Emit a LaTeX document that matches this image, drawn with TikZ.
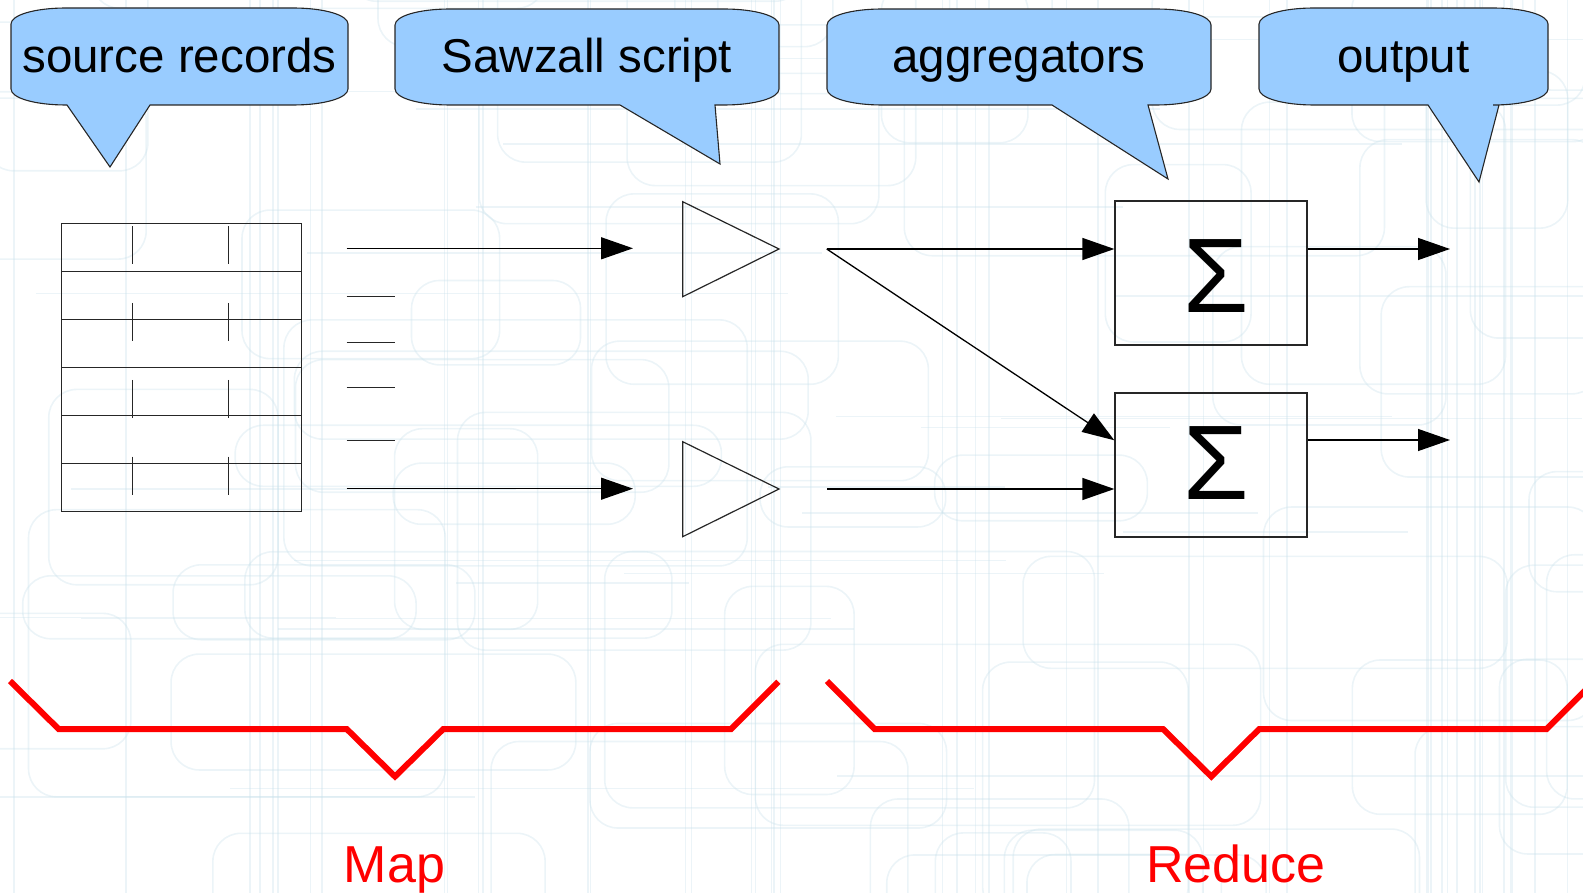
\documentclass[tikz,border=0pt]{standalone}
\usepackage{fontspec}
\setmainfont{Liberation Sans}
\usetikzlibrary{arrows.meta,calc}

\definecolor{bubblefill}{HTML}{99CCFF}
\definecolor{bggrid}{RGB}{200,224,234}

% speech bubble: left, top, right, bottom, tail start x, tail end x, tip x, tip y
\newcommand\speechbubble[8]{%
  \draw[bubble] (#1,#2+16) .. controls (#1,#2+7) and (#1+24,#2) .. (#1+55,#2)
    -- (#3-55,#2) .. controls (#3-24,#2) and (#3,#2+7) .. (#3,#2+16)
    -- (#3,#4-16) .. controls (#3,#4-7) and (#3-24,#4) .. (#3-55,#4)
    -- (#6,#4) -- (#7,#8) -- (#5,#4)
    -- (#1+55,#4) .. controls (#1+24,#4) and (#1,#4-7) .. (#1,#4-16) -- cycle;}

\begin{document}
\begin{tikzpicture}[x=1pt,y=-1pt,
  bubble/.style={fill=bubblefill, draw=black!85, line width=1.1pt},
  bubbletext/.style={anchor=base, inner sep=0pt, font=\fontsize{47.5}{57}\selectfont},
  thin/.style={draw=black!85, line width=1.3pt},
  flow/.style={draw=black, line width=1.3pt, -{Triangle[length=32pt,width=22pt]}},
  aggbox/.style={draw=black!85, line width=1.3pt, minimum width=192pt, minimum height=144pt, inner sep=0pt},
  sigmatext/.style={anchor=base, inner sep=0pt, font=\fontsize{106}{120}\selectfont},
  brace/.style={draw=red, line width=6pt, line join=miter},
  phasetext/.style={anchor=base, inner sep=0pt, text=red, font=\fontsize{52}{62}\selectfont},
  bgline/.style={draw=bggrid, line width=1.6pt, opacity=0.35}]

\useasboundingbox (0,0) rectangle (1583,893);

% faint circuit-like backdrop
\begin{scope}
  \clip (0,0) rectangle (1583,893);
  \pgfmathsetseed{4242}
  \foreach \i in {1,...,70}{
    \pgfmathsetmacro\bx{rnd*1750-120}
    \pgfmathsetmacro\by{rnd*1050-120}
    \pgfmathsetmacro\bw{120+rnd*400}
    \pgfmathsetmacro\bh{60+rnd*230}
    \draw[bgline, rounded corners=28pt] (\bx,\by) rectangle ++(\bw,\bh);
  }
  \foreach \i in {1,...,45}{
    \pgfmathsetmacro\bx{rnd*1583}
    \draw[bgline] (\bx,0) -- (\bx,893);
  }
  \foreach \i in {1,...,25}{
    \pgfmathsetmacro\by{rnd*893}
    \pgfmathsetmacro\bx{rnd*1300-100}
    \pgfmathsetmacro\bw{200+rnd*700}
    \draw[bgline] (\bx,\by) -- ++(\bw,0);
  }
\end{scope}

% callouts
\speechbubble{11}{8}{348}{105}{67}{150}{110}{167}
\node[bubbletext] (lbl-src) at (179.5,73) {source records};
\speechbubble{395}{9}{779}{105}{620}{715}{720}{164}
\node[bubbletext] (lbl-script) at (587,73) {Sawzall script};
\speechbubble{827}{9}{1211}{105}{1052}{1148}{1168}{179}
\node[bubbletext] (lbl-agg) at (1019,73) {aggregators};
\speechbubble{1259}{8}{1548}{105}{1428}{1499}{1479}{182}
\node[bubbletext] (lbl-out) at (1403.5,73) {output};

% record table
\node[thin, draw, minimum width=240pt, minimum height=288.4pt, inner sep=0pt] (records) at (181.7,367.5) {};
\foreach \ry in {271.7,319.3,367.7,415.7,463.7}
  \draw[thin] (records.west |- 0,\ry) -- (records.east |- 0,\ry);
\foreach \tx in {132.3,228.3}
  \foreach \ty in {245.5,322,399,475.5}
    \draw[thin] (\tx,\ty-19) -- (\tx,\ty+19);

% record stream
\coordinate (r1) at (346.7,248.3);
\coordinate (r1e) at (633,248.3);
\coordinate (r6) at (346.7,488.7);
\coordinate (r6e) at (633,488.7);
\foreach \ly in {296.7,342.3,387.7,440.7}
  \draw[thin] (346.7,\ly) -- (395,\ly);
\draw[flow] (r1) -- (r1e);
\draw[flow] (r6) -- (r6e);

% Sawzall script instances
\draw[thin, line width=1.2pt, line join=miter] (682.7,201.7) -- (682.7,296.7) -- (779,249) -- cycle;
\draw[thin, line width=1.2pt, line join=miter] (682.7,441.7) -- (682.7,536.7) -- (779,489) -- cycle;

% aggregators
\node[aggbox] (agg1) at (1211,273) {};
\node[aggbox] (agg2) at (1211,465) {};
\node[sigmatext] (sum1) at (1216,312.7) {Σ};
\node[sigmatext] (sum2) at (1216,499.3) {Σ};

\coordinate (m1) at (826.7,249);
\coordinate (m2) at (827,489);
\coordinate (in2) at ($(agg2.north west)!0.33!(agg2.south west)$);
\draw[flow] (m1) -- (m1 -| agg1.west);
\draw[flow] (m1) -- (in2);
\draw[flow] (m2) -- (m2 -| agg2.west);

\coordinate (o1) at (1450,249);
\coordinate (o2) at (1450,440);
\draw[flow] (o1 -| agg1.east) -- (o1);
\draw[flow] (o2 -| agg2.east) -- (o2);

% phase braces
\begin{scope}
  \clip (0,0) rectangle (1583,893);
  \draw[brace] (10,681) -- (58.6,729) -- (346.7,729) -- (395,776.5) -- (443.3,729) -- (731,729) -- (778.3,681.7);
  \draw[brace] (827,681) -- (874.5,729) -- (1163,729) -- (1211.3,776.5) -- (1259.3,729) -- (1546.7,729) -- (1594.5,681);
\end{scope}
\node[phasetext] (map) at (394.5,882) {Map};
\node[phasetext] (reduce) at (1236,882) {Reduce};

\end{tikzpicture}
\end{document}
